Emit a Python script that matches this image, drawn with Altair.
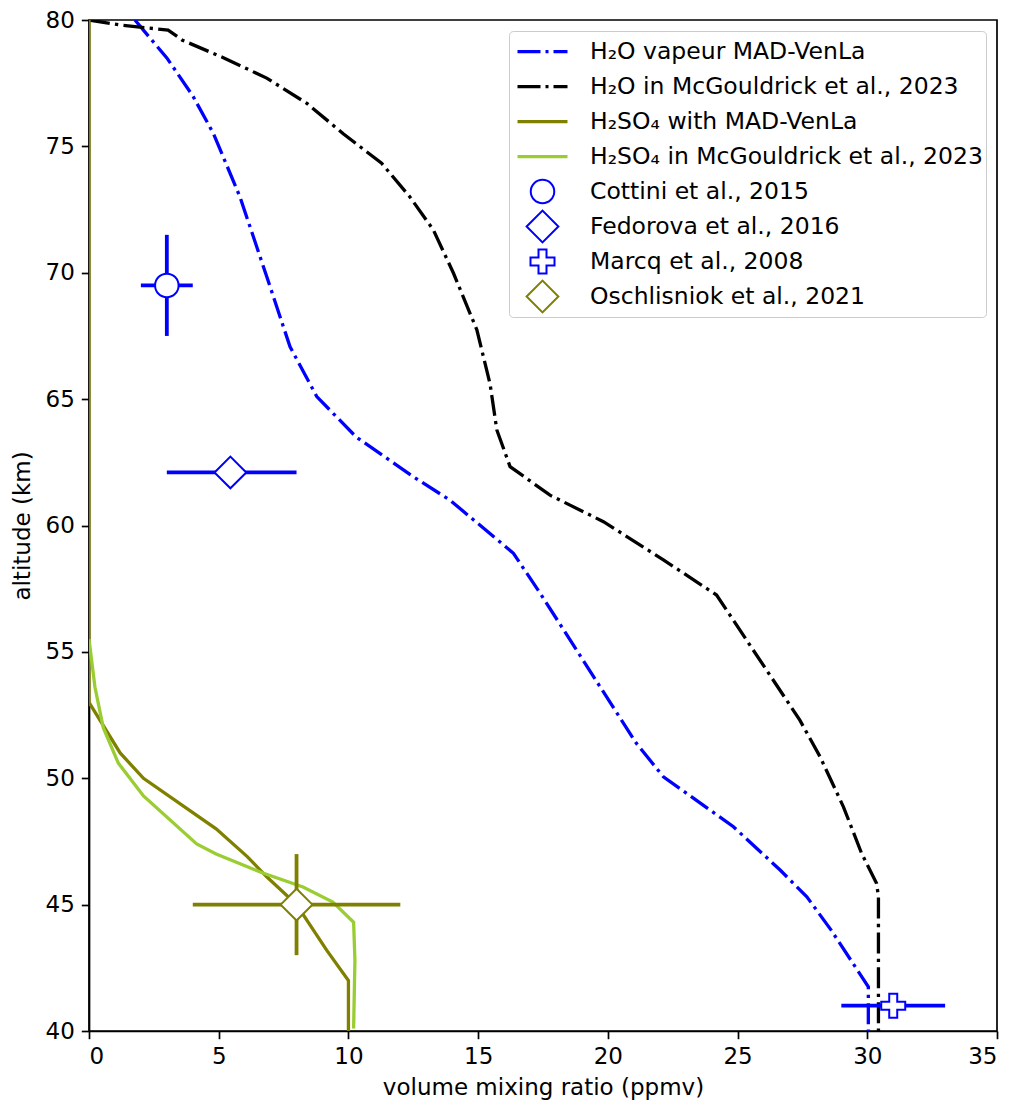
import altair as alt
import pandas as pd

# ---------------- data ----------------
# H2O vapour, MAD-VenLa (blue, dash-dot)
h2o_mad_x = [1.77, 3.0, 4.0, 4.8, 5.82, 6.85, 7.75, 8.78, 10.3, 12.5, 13.92, 16.36,
             17.39, 19.7, 21.1, 22.14, 24.84, 26.64, 27.67, 28.6, 30.04, 30.04]
h2o_mad_alt = [80.0, 78.5, 77.0, 75.5, 73.0, 69.85, 67.07, 65.1, 63.5, 61.93, 61.0, 58.9,
               57.32, 53.62, 51.38, 50.06, 48.08, 46.37, 45.31, 44.0, 41.75, 40.0]

# H2O in McGouldrick et al., 2023 (black, dash-dot)
h2o_mcg_x = [0.0, 1.2, 3.05, 3.6, 5.2, 6.85, 8.4, 9.8, 11.28, 12.37, 13.27, 14.05, 14.95,
             15.46, 15.72, 16.23, 17.77, 19.83, 22.14, 24.19, 27.4, 28.18, 29.08, 29.78,
             30.36, 30.43, 30.43]
h2o_mcg_alt = [80.0, 79.8, 79.6, 79.2, 78.5, 77.7, 76.7, 75.5, 74.33, 73.0, 71.7, 69.98, 67.74,
               65.6, 63.78, 62.33, 61.2, 60.15, 58.64, 57.25, 52.3, 50.85, 48.87, 47.03,
               45.84, 45.3, 40.0]

# H2SO4 with MAD-VenLa (olive, solid)
h2so4_mad_x = [0.0, 0.0, 1.2, 2.1, 4.9, 6.1, 6.85, 8.0, 9.16, 10.0, 10.0]
h2so4_mad_alt = [80.0, 53.0, 51.0, 50.0, 48.0, 46.9, 46.1, 45.0, 43.2, 42.0, 40.0]

# H2SO4 in McGouldrick et al., 2023 (yellow-green, solid)
h2so4_mcg_x = [0.0, 0.23, 0.55, 1.13, 2.1, 4.15, 4.9, 6.7, 8.25, 9.4, 10.2, 10.25, 10.2]
h2so4_mcg_alt = [55.5, 53.6, 52.0, 50.6, 49.3, 47.4, 47.0, 46.25, 45.7, 45.1, 44.3, 42.8, 40.1]

# observations with error bars
obs_names = ["Cottini et al., 2015", "Fedorova et al., 2016", "Marcq et al., 2008",
             "Oschlisniok et al., 2021"]
obs_x = [3.0, 5.45, 31.0, 8.0]
obs_x_lo = [2.0, 3.0, 29.0, 4.0]
obs_x_hi = [4.0, 8.0, 33.0, 12.0]
obs_alt = [69.5, 62.1, 41.0, 45.0]
obs_alt_lo = [67.5, 62.1, 41.0, 43.0]
obs_alt_hi = [71.5, 62.1, 41.0, 47.0]
obs_colors = ["#0000ff", "#0000ff", "#0000ff", "#808000"]

line_names = ["H₂O vapeur MAD-VenLa", "H₂O in McGouldrick et al., 2023",
              "H₂SO₄ with MAD-VenLa", "H₂SO₄ in McGouldrick et al., 2023"]
line_colors = ["#0000ff", "#000000", "#808000", "#9acd32"]

# ---------------- styling ----------------
FONT = "DejaVu Sans"
FS = 23
LW = 3.3
DASHDOT = [21, 5.3, 3.3, 5.3]

SOLID_PATH = "M-2,-0.13L2,-0.13L2,0.13L-2,0.13Z"
DASHDOT_PATH = ("M-2,-0.13L-0.16,-0.13L-0.16,0.13L-2,0.13Z"
                "M0.24,-0.13L0.48,-0.13L0.48,0.13L0.24,0.13Z"
                "M0.88,-0.13L2,-0.13L2,0.13L0.88,0.13Z")
CIRCLE_PATH = "M-0.94,0A0.94,0.94,0,1,1,0.94,0A0.94,0.94,0,1,1,-0.94,0Z"
DIAMOND_PATH = "M-1.27,0L0,-1.27L1.27,0L0,1.27Z"
CROSS_PATH = ("M-0.32,-0.96L0.32,-0.96L0.32,-0.32L0.96,-0.32L0.96,0.32L0.32,0.32"
              "L0.32,0.96L-0.32,0.96L-0.32,0.32L-0.96,0.32L-0.96,-0.32L-0.32,-0.32Z")

legend_domain = line_names + obs_names
legend_shapes = [DASHDOT_PATH, DASHDOT_PATH, SOLID_PATH, SOLID_PATH,
                 CIRCLE_PATH, DIAMOND_PATH, CROSS_PATH, DIAMOND_PATH]
legend_fills = line_colors + ["#ffffff"] * 4
legend_strokes = ["transparent"] * 4 + obs_colors

xscale = alt.Scale(domain=[0, 35], nice=False, zero=False)
yscale = alt.Scale(domain=[40, 80], nice=False, zero=False)
xaxis = alt.Axis(values=[0, 5, 10, 15, 20, 25, 30, 35], grid=False,
                 title="volume mixing ratio (ppmv)", titlePadding=8)
yaxis = alt.Axis(values=[40, 45, 50, 55, 60, 65, 70, 75, 80], grid=False,
                 title="altitude (km)", titlePadding=11)


def line_layer(xs, ys, color, dash=None):
    df = pd.DataFrame({"x": xs, "alt": ys, "i": list(range(len(xs)))})
    kw = dict(color=color, strokeWidth=LW, clip=True)
    if dash is not None:
        kw["strokeDash"] = dash
    return alt.Chart(df).mark_line(**kw).encode(
        x=alt.X("x:Q", scale=xscale, axis=xaxis),
        y=alt.Y("alt:Q", scale=yscale, axis=yaxis),
        order=alt.Order("i:Q"),
    )


lines = [
    line_layer(h2o_mad_x, h2o_mad_alt, line_colors[0], DASHDOT),
    line_layer(h2o_mcg_x, h2o_mcg_alt, line_colors[1], DASHDOT),
    line_layer(h2so4_mad_x, h2so4_mad_alt, line_colors[2]),
    line_layer(h2so4_mcg_x, h2so4_mcg_alt, line_colors[3]),
]

obs = pd.DataFrame({
    "series": obs_names, "x": obs_x, "x_lo": obs_x_lo, "x_hi": obs_x_hi,
    "alt": obs_alt, "alt_lo": obs_alt_lo, "alt_hi": obs_alt_hi, "col": obs_colors,
})

hbars = alt.Chart(obs).mark_rule(strokeWidth=3.8).encode(
    x=alt.X("x_lo:Q", scale=xscale, axis=xaxis), x2="x_hi:Q",
    y=alt.Y("alt:Q", scale=yscale, axis=yaxis),
    color=alt.Color("col:N", scale=None),
)
vbars = alt.Chart(obs).transform_filter("datum.alt_hi > datum.alt_lo").mark_rule(
    strokeWidth=3.8).encode(
    x=alt.X("x:Q", scale=xscale, axis=xaxis),
    y=alt.Y("alt_lo:Q", scale=yscale, axis=yaxis), y2="alt_hi:Q",
    color=alt.Color("col:N", scale=None),
)

legend = alt.Legend(
    title=None, orient="top-right", offset=11, padding=3,
    labelFont=FONT, labelFontSize=23.5, labelColor="black", labelLimit=1000,
    labelOffset=34, symbolOffset=17, rowPadding=0, clipHeight=35, gridAlign="all",
    symbolSize=625, symbolStrokeWidth=2, symbolOpacity=1,
    strokeColor="#cccccc", fillColor="rgba(255,255,255,0.8)", cornerRadius=4,
)

points = alt.Chart(obs).mark_point(filled=True, size=625, strokeWidth=2, opacity=1).encode(
    x=alt.X("x:Q", scale=xscale, axis=xaxis),
    y=alt.Y("alt:Q", scale=yscale, axis=yaxis),
    shape=alt.Shape("series:N", scale=alt.Scale(domain=legend_domain, range=legend_shapes),
                    legend=legend, title=None),
    fill=alt.Fill("series:N", scale=alt.Scale(domain=legend_domain, range=legend_fills),
                  legend=legend, title=None),
    stroke=alt.Stroke("series:N", scale=alt.Scale(domain=legend_domain, range=legend_strokes),
                      legend=legend, title=None),
)

chart = alt.layer(*lines, hbars, vbars, points).properties(
    width=908, height=1011,
    autosize=alt.AutoSizeParams(type="none"),
    padding={"left": 81, "top": 12, "right": 10, "bottom": 80},
).configure_view(
    stroke="black", strokeWidth=1.7,
).configure_axis(
    labelFont=FONT, labelFontSize=FS, labelColor="black",
    titleFont=FONT, titleFontSize=FS, titleColor="black", titleFontWeight="normal",
    domainColor="black", domainWidth=1.7, tickColor="black", tickWidth=1.7,
    tickSize=7.7, labelPadding=7,
)

chart.save("out.html", embed_options={"renderer": "svg", "actions": False})
